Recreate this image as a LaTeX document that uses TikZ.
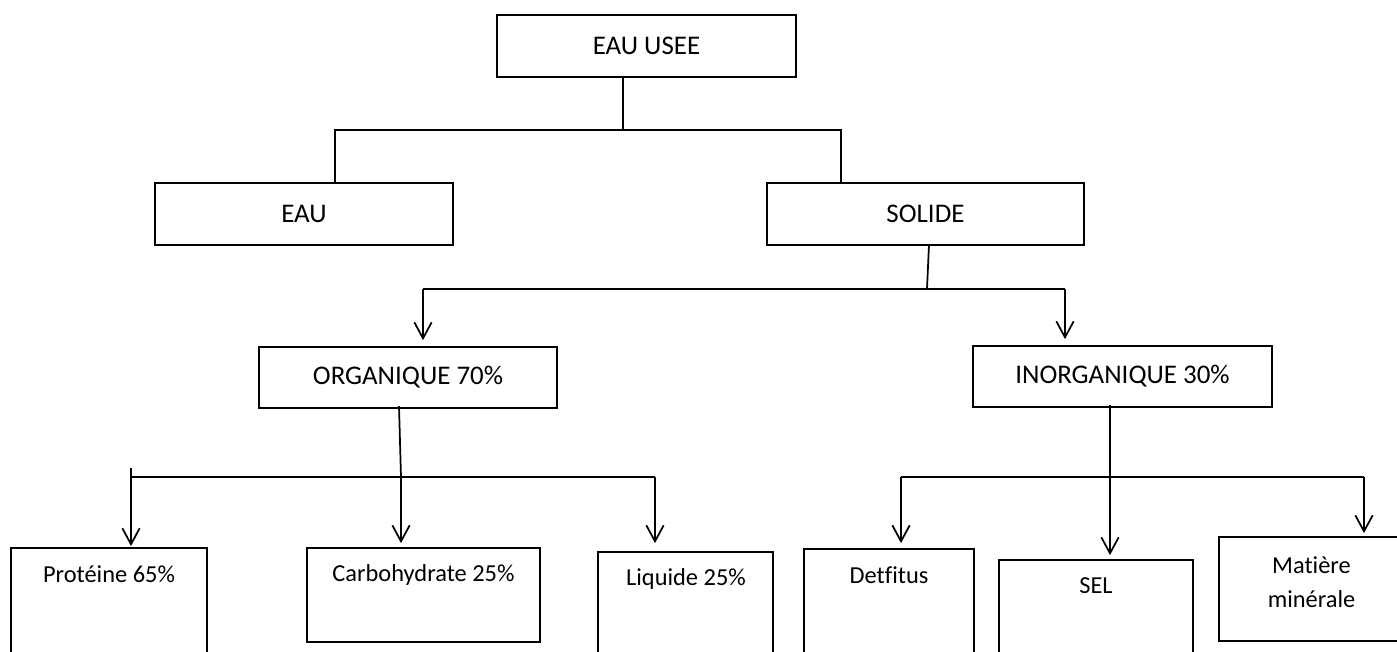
\documentclass[tikz,border=0pt]{standalone}
\usepackage{fontspec}
\setmainfont{Carlito}[Ligatures=NoCommon]
\usetikzlibrary{arrows.meta}
\begin{document}
\begin{tikzpicture}[x=0.75pt,y=-0.75pt,
  box/.style={draw, line width=1.3pt, inner sep=0pt, rectangle},
  conn/.style={line width=1.3pt},
  arr/.style={conn, -{Straight Barb[length=12pt,width=13pt,line width=1.3pt]}},
  big/.style={font=\fontsize{20.2}{24}\selectfont},
  small/.style={font=\fontsize{18.3}{25.5}\selectfont, inner sep=0pt, align=center}]
\useasboundingbox (0,0) rectangle (1397,651);
\fill[white] (0,0) rectangle (1397,651);
\clip (0,0) rectangle (1397,651);
% top level
\node[box, big, minimum width=299*0.75pt, minimum height=62*0.75pt] (usee) at (646.5,46) {EAU USEE};
\node[box, big, minimum width=298*0.75pt, minimum height=62*0.75pt] (eau) at (304,214) {EAU};
\node[box, big, minimum width=317*0.75pt, minimum height=62*0.75pt] (solide) at (925.5,214) {SOLIDE};
\node[box, big, minimum width=298*0.75pt, minimum height=61*0.75pt] (org) at (408,377.5) {ORGANIQUE 70\%};
\node[box, big, minimum width=299*0.75pt, minimum height=61*0.75pt] (inorg) at (1122.5,376.5) {INORGANIQUE 30\%};
% bottom boxes
\node[box, minimum width=196*0.75pt, minimum height=112*0.75pt] (prot) at (109,604) {};
\node[box, minimum width=233*0.75pt, minimum height=94*0.75pt] (carb) at (423.5,595) {};
\node[box, minimum width=175*0.75pt, minimum height=108*0.75pt] (liq) at (685.5,606) {};
\node[box, minimum width=170*0.75pt, minimum height=111*0.75pt] (detf) at (889,604.5) {};
\node[box, minimum width=194*0.75pt, minimum height=100*0.75pt] (sel) at (1096,610) {};
\node[box, minimum width=185*0.75pt, minimum height=104*0.75pt] (mat) at (1311.5,589) {};
\node[small, anchor=base] (tprot) at (109,582) {Protéine 65\%};
\node[small, anchor=base] (tcarb) at (423.5,581) {Carbohydrate 25\%};
\node[small, anchor=base] (tliq) at (686,585) {Liquide 25\%};
\node[small, anchor=base] (tdetf) at (889,583) {Detfitus};
\node[small, anchor=base] (tsel) at (1096,593) {SEL};
\node[small, anchor=base] (tmat1) at (1311.5,573) {Matière};
\node[small, anchor=base] (tmat2) at (1311.5,607) {minérale};
% junctions
\coordinate (j1) at (623,130);
\coordinate (jl) at (335,130);
\coordinate (jr) at (841,130);
\coordinate (s0) at (929,0);
\coordinate (j2) at (927,289);
\coordinate (jo) at (423,289);
\coordinate (ji) at (1065,289);
\coordinate (o0) at (399,0);
\coordinate (j3) at (401,477);
\coordinate (ja) at (131,477);
\coordinate (jb) at (655,477);
\coordinate (jstub) at (131,468);
\coordinate (j4) at (1110,477);
\coordinate (jd) at (901,477);
\coordinate (jm) at (1364,477);
% connectors
\draw[conn] (usee.south -| j1) -- (j1);
\draw[conn] (eau.north -| jl) -- (jl) -- (jr) -- (solide.north -| jr);
\draw[conn] ([yshift=1pt]solide.south -| s0) -- (j2);
\draw[conn] (jo) -- (ji);
\draw[arr, shorten >=4.5pt] (jo) -- (org.north -| jo);
\draw[arr, shorten >=4.5pt] (ji) -- (inorg.north -| ji);
\draw[conn] ([yshift=2pt]org.south -| o0) -- (j3);
\draw[conn] (jstub) -- (ja) -- (jb);
\draw[arr, shorten >=0.8pt] (ja) -- (prot.north -| ja);
\draw[arr, shorten >=3pt] (j3) -- (carb.north -| j3);
\draw[arr, shorten >=6pt] (jb) -- (liq.north -| jb);
\draw[conn] ([yshift=2pt]inorg.south -| j4) -- (j4);
\draw[conn] (jd) -- (jm);
\draw[arr, shorten >=3.75pt] (jd) -- (detf.north -| jd);
\draw[arr, shorten >=3pt] (j4) -- (sel.north -| j4);
\draw[arr, shorten >=2.25pt] (jm) -- (mat.north -| jm);
\end{tikzpicture}
\end{document}
